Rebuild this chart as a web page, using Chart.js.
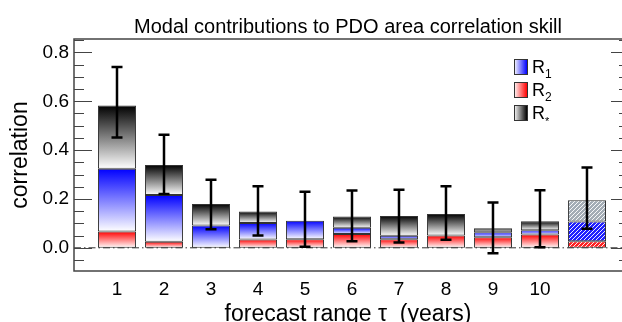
<!DOCTYPE html>
<html><head><meta charset="utf-8">
<script src="https://cdn.jsdelivr.net/npm/chart.js@4.4.1/dist/chart.umd.min.js"></script>
<style>
html,body{margin:0;padding:0;background:#fff;overflow:hidden;width:622px;height:322px}
#wrap{position:relative;width:622px;height:340px}
</style></head><body>
<div id="wrap"><canvas id="c" width="622" height="340"></canvas></div>
<script>
// forecast range tau (years); the 11th bar is the unlabelled hatched one
const ranges=[1,2,3,4,5,6,7,8,9,10,11];
const r2=[0.067,0.025,0.000,0.034,0.035,0.056,0.035,0.050,0.043,0.054,0.027];
const r1=[0.257,0.191,0.091,0.068,0.076,0.026,0.014,0.000,0.021,0.018,0.081];
const rStar=[0.259,0.123,0.088,0.047,0.000,0.046,0.081,0.088,0.016,0.037,0.087];
const errHi=[0.740,0.463,0.279,0.252,0.230,0.235,0.238,0.252,0.186,0.236,0.329];
const errLo=[0.452,0.220,0.076,0.050,0.004,0.027,0.022,0.033,-0.022,0.002,0.078];
const xTicks=[1,2,3,4,5,6,7,8,9,10];
const xTickLabels=['1','2','3','4','5','6','7','8','9','10'];
const yTicks=[0,0.2,0.4,0.6,0.8];
const yTickLabels=['0.0','0.2','0.4','0.6','0.8'];

const FONT='"Liberation Sans", Arial, Helvetica, sans-serif';
const series=[r2,r1,rStar];
const colors=['#ff0000','#0000ff','#000000'];
const hatchBg=['#ff2020','#2020ff','#a3acb5'];

function hatch(bg){
  const c=document.createElement('canvas'); c.width=4; c.height=4;
  const g=c.getContext('2d'); g.fillStyle=bg; g.fillRect(0,0,4,4);
  g.strokeStyle='rgba(255,255,255,0.9)'; g.lineWidth=1;
  g.beginPath(); g.moveTo(0,4); g.lineTo(4,0); g.moveTo(-1,1); g.lineTo(1,-1); g.moveTo(3,5); g.lineTo(5,3); g.stroke();
  return document.getElementById('c').getContext('2d').createPattern(c,'repeat');
}
const patterns=hatchBg.map(hatch);

function segFill(k){
  return (ctx)=>{
    const chart=ctx.chart, i=ctx.dataIndex;
    if(i===10) return patterns[k];
    if(!chart.chartArea) return colors[k];
    let base=0; for(let j=0;j<k;j++) base+=series[j][i];
    const top=base+series[k][i];
    const y=chart.scales.y, y0=y.getPixelForValue(top), y1=y.getPixelForValue(base);
    if(Math.abs(y1-y0)<0.5) return colors[k];
    const g=chart.ctx.createLinearGradient(0,y0,0,y1);
    g.addColorStop(0,colors[k]); g.addColorStop(1,'#ffffff');
    return g;
  };
}

const datasets=series.map((vals,k)=>({
  label:['R2','R1','R*'][k],
  data:ranges.map((r,i)=>({x:r,y:vals[i]})),
  backgroundColor:segFill(k),
  borderColor:'#333',
  borderWidth:(ctx)=>vals[ctx.dataIndex]>0?1:0,
  borderSkipped:false,
  barPercentage:0.81,
  categoryPercentage:1
}));

const zeroLine={id:'zeroLine',beforeDatasetsDraw(chart){
  const {ctx,chartArea:a,scales:{y}}=chart; const py=y.getPixelForValue(0);
  ctx.save(); ctx.strokeStyle='#333'; ctx.lineWidth=1; ctx.setLineDash([7,3,1.5,3]);
  ctx.beginPath(); ctx.moveTo(a.left,py); ctx.lineTo(a.right,py); ctx.stroke(); ctx.restore();
}};

const errorBars={id:'errorBars',afterDatasetsDraw(chart){
  const {ctx,scales:{x,y}}=chart;
  ctx.save(); ctx.strokeStyle='#000'; ctx.lineWidth=2.5;
  ranges.forEach((r,i)=>{
    const px=x.getPixelForValue(r), t=y.getPixelForValue(errHi[i]), b=y.getPixelForValue(errLo[i]);
    ctx.beginPath();
    ctx.moveTo(px,t); ctx.lineTo(px,b);
    ctx.moveTo(px-5.5,t); ctx.lineTo(px+5.5,t);
    ctx.moveTo(px-5.5,b); ctx.lineTo(px+5.5,b);
    ctx.stroke();
  });
  ctx.restore();
}};

// frame: left/top/bottom only, the right spine sits just past the page edge
const frame={id:'frame',afterDraw(chart){
  const {ctx,chartArea:a,scales:{y}}=chart;
  const rightSpine=a.right+7;
  ctx.save(); ctx.strokeStyle='#444'; ctx.lineWidth=1.5;
  ctx.beginPath();
  ctx.moveTo(a.right,a.top); ctx.lineTo(a.left,a.top); ctx.lineTo(a.left,a.bottom); ctx.lineTo(a.right,a.bottom);
  ctx.stroke();
  ctx.lineWidth=1.2;
  for(let n=-1;n<=17;n++){
    const v=n*0.05; const py=Math.round(y.getPixelForValue(v))+0.5;
    const len=(n%4===0)?18:10;
    ctx.beginPath(); ctx.moveTo(a.left,py); ctx.lineTo(a.left+len,py);
    ctx.moveTo(rightSpine,py); ctx.lineTo(rightSpine-len,py); ctx.stroke();
  }
  ctx.restore();
}};

const legendBox={id:'legendBox',afterDraw(chart){
  const ctx=chart.ctx;
  const items=[{sub:'1',c:'#0000ff'},{sub:'2',c:'#ff0000'},{sub:'*',c:'#000000'}];
  ctx.save();
  items.forEach((it,i)=>{
    const x=514, y=59+i*23;
    const g=ctx.createLinearGradient(x,0,x+13,0);
    g.addColorStop(0,'#ffffff'); g.addColorStop(1,it.c);
    ctx.fillStyle=g; ctx.fillRect(x,y,13,15);
    ctx.strokeStyle='#333'; ctx.lineWidth=1; ctx.strokeRect(x+0.5,y+0.5,13,15);
    ctx.fillStyle='#000'; ctx.textBaseline='alphabetic';
    ctx.font='18px '+FONT; ctx.fillText('R',x+18,y+14);
    const w=ctx.measureText('R').width;
    if(it.sub==='*'){ctx.font='11px '+FONT; ctx.fillText('*',x+18+w,y+20);}
    else {ctx.font='12px '+FONT; ctx.fillText(it.sub,x+18+w,y+19);}
  });
  ctx.restore();
}};

new Chart(document.getElementById('c'),{
  type:'bar',
  data:{datasets},
  plugins:[zeroLine,errorBars,frame,legendBox],
  options:{
    responsive:false,animation:false,
    layout:{padding:{left:0,right:0,top:0,bottom:0}},
    plugins:{
      legend:{display:false},tooltip:{enabled:false},
      title:{display:true,fullSize:false,text:'Modal contributions to PDO area correlation skill',
        color:'#000',font:{family:FONT,size:20,weight:'normal'},padding:{top:15,bottom:0}}
    },
    scales:{
      x:{type:'linear',stacked:true,min:0.085,max:11.745,offset:false,
        grid:{display:false,drawTicks:false},border:{display:false},
        afterBuildTicks:s=>{s.ticks=xTicks.map(v=>({value:v}));},
        afterFit:s=>{s.height=69;},
        ticks:{autoSkip:false,maxRotation:0,padding:7,color:'#000',font:{family:FONT,size:19},
          callback:(v,i)=>xTickLabels[i]},
        title:{display:true,text:'forecast range \u03C4  (years)',color:'#000',
          font:{family:FONT,size:23},padding:{top:0,bottom:12}}
      },
      y:{type:'linear',stacked:true,min:-0.095,max:0.855,
        grid:{display:false,drawTicks:false},border:{display:false},
        afterBuildTicks:s=>{s.ticks=yTicks.map(v=>({value:v}));},
        afterFit:s=>{s.width=74;},
        ticks:{padding:5,color:'#000',font:{family:FONT,size:19},callback:(v,i)=>yTickLabels[i]},
        title:{display:true,text:'correlation',color:'#000',font:{family:FONT,size:23},padding:{top:7,bottom:0}}
      }
    }
  }
});
</script>
</body></html>
